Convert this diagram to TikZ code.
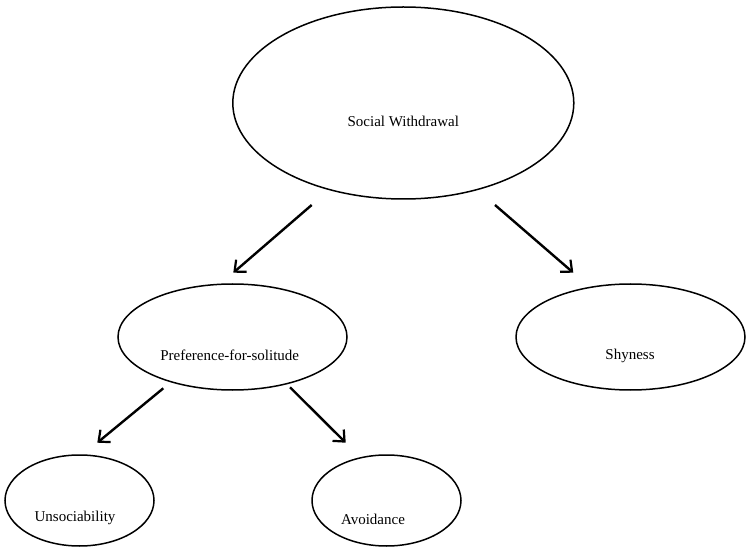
\documentclass[tikz,border=0pt]{standalone}
\usepackage{fontspec}
\setmainfont{Liberation Serif}
\usetikzlibrary{shapes.geometric,arrows.meta}
\begin{document}
\begin{tikzpicture}[x=1pt,y=-1pt,
  oval/.style={draw, ellipse, line width=1.5pt, inner sep=0pt},
  lbl/.style={font=\fontsize{15}{18}\selectfont, inner sep=0pt},
  arr/.style={line width=2.4pt, -{Straight Barb[length=9pt,width=16pt,line width=2.2pt]}}]
\useasboundingbox (0,0) rectangle (750,553);
\node[oval, minimum width=341pt, minimum height=192pt] (sw) at (403.3,103) {};
\node[oval, minimum width=229pt, minimum height=106pt] (pf) at (232.5,337) {};
\node[oval, minimum width=229pt, minimum height=106pt] (sh) at (630.5,337) {};
\node[oval, minimum width=149pt, minimum height=91pt] (un) at (79.5,500.5) {};
\node[oval, minimum width=149pt, minimum height=91pt] (av) at (386.5,500.5) {};
\node[lbl] (swt) at (403.3,121.7) {Social Withdrawal};
\node[lbl] (pft) at (229.7,355.7) {Preference-for-solitude};
\node[lbl] (sht) at (630,356) {Shyness};
\node[lbl] (unt) at (75,518) {Unsociability};
\node[lbl] (avt) at (373,519) {Avoidance};
\coordinate (a1s) at (311.7,205);
\coordinate (a1e) at (233.3,272.7);
\coordinate (a2s) at (495,205);
\coordinate (a2e) at (573.3,272.7);
\coordinate (a3s) at (163.3,388.3);
\coordinate (a3e) at (97.3,442.7);
\coordinate (a4s) at (290,387.3);
\coordinate (a4e) at (345.7,442.7);
\draw[arr] (a1s) -- (a1e);
\draw[arr] (a2s) -- (a2e);
\draw[arr] (a3s) -- (a3e);
\draw[arr] (a4s) -- (a4e);
\end{tikzpicture}
\end{document}
